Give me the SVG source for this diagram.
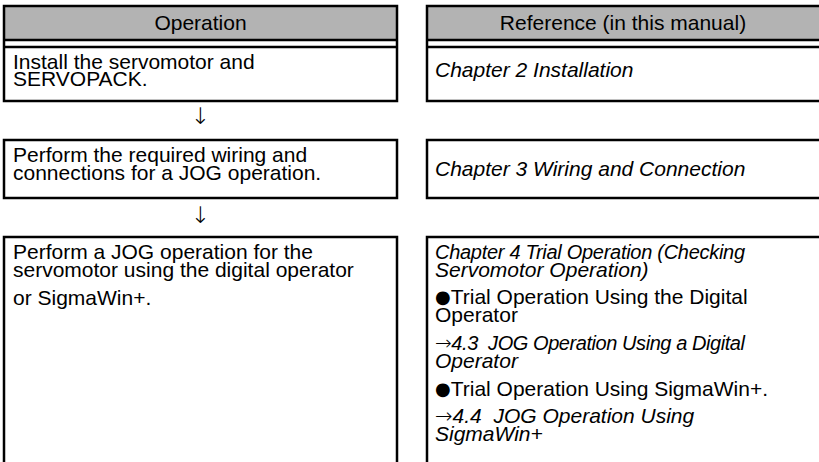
<svg xmlns="http://www.w3.org/2000/svg" width="819" height="462" viewBox="0 0 819 462">
<style>
.t{font-family:"Liberation Sans",Arial,sans-serif;font-size:21px;fill:#000}
.i{font-style:italic}
.s{font-size:20px}
.h{text-anchor:middle}
.b{fill:none;stroke:#000;stroke-width:2.5}
.hd{fill:#b3b3b3;stroke:none}
.bul{font-family:"DejaVu Sans",sans-serif;font-style:normal;font-size:18px}
.arr{font-family:"DejaVu Sans",sans-serif;font-style:normal;font-weight:200}
.ar{font-family:"DejaVu Sans",sans-serif;font-weight:200;font-size:23px;text-anchor:middle;fill:#000}
</style>
<rect width="819" height="462" fill="#fff"/>
<g id="header-operation">
<rect class="hd" x="4" y="6" width="393" height="34"/>
<rect class="b" x="4" y="6" width="393" height="95"/>
<line class="b" x1="4" y1="40" x2="397" y2="40"/>
<line class="b" x1="4" y1="47" x2="397" y2="47"/>
<text class="t h" x="200.5" y="30">Operation</text>
</g>
<g id="header-reference">
<rect class="hd" x="427" y="6" width="394" height="34"/>
<rect class="b" x="427" y="6" width="394" height="95"/>
<line class="b" x1="427" y1="40" x2="821" y2="40"/>
<line class="b" x1="427" y1="47" x2="821" y2="47"/>
<text class="t h" x="623" y="30">Reference (in this manual)</text>
</g>
<g id="op1">
<text class="t" x="13" y="69">Install the servomotor and</text>
<text class="t" x="13" y="86">SERVOPACK.</text>
</g>
<g id="ref1">
<text class="t i" x="435" y="77">Chapter 2 Installation</text>
</g>
<g id="op2">
<rect class="b" x="4" y="140" width="393" height="58"/>
<text class="t" x="13" y="162">Perform the required wiring and</text>
<text class="t" x="13" y="180">connections for a JOG operation.</text>
</g>
<g id="ref2">
<rect class="b" x="427" y="140" width="394" height="58"/>
<text class="t i" x="435" y="176">Chapter 3 Wiring and Connection</text>
</g>
<g id="op3">
<rect class="b" x="4" y="237" width="393" height="240"/>
<text class="t" x="13" y="259">Perform a JOG operation for the</text>
<text class="t" x="13" y="277">servomotor using the digital operator</text>
<text class="t" x="13" y="305">or SigmaWin+.</text>
</g>
<g id="ref3">
<rect class="b" x="427" y="237" width="394" height="240"/>
<text class="t i s" x="435" y="259" textLength="310" lengthAdjust="spacing">Chapter 4 Trial Operation (Checking</text>
<text class="t i" x="435" y="277">Servomotor Operation)</text>
<text class="t" x="435" y="304"><tspan class="bul" baseline-shift="1">●</tspan>Trial Operation Using the Digital</text>
<text class="t" x="435" y="322">Operator</text>
<text class="t i s" x="435" y="350" xml:space="preserve" textLength="310" lengthAdjust="spacing"><tspan class="arr">→</tspan>4.3  JOG Operation Using a Digital</text>
<text class="t i" x="435" y="368">Operator</text>
<text class="t" x="435" y="396"><tspan class="bul" baseline-shift="1">●</tspan>Trial Operation Using SigmaWin+.</text>
<text class="t i" x="435" y="423" xml:space="preserve"><tspan class="arr">→</tspan>4.4  JOG Operation Using</text>
<text class="t i" x="435" y="441">SigmaWin+</text>
</g>
<g id="connectors">
<text class="ar" x="200.5" y="124">↓</text>
<text class="ar" x="200.5" y="223">↓</text>
</g>
</svg>
